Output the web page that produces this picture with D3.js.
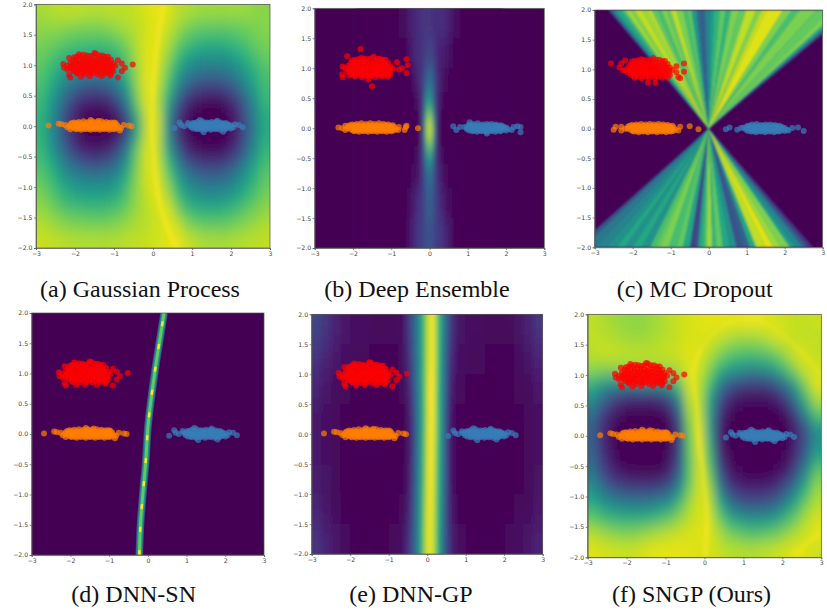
<!DOCTYPE html>
<html>
<head>
<meta charset="utf-8">
<script src="https://cdn.jsdelivr.net/npm/d3@7"></script>
<style>
  html, body { margin: 0; background: #fff; }
  svg { display: block; }
  .caption { font-family: "Liberation Serif", serif; font-size: 24px; fill: #111; text-anchor: middle; }
  .tick text { font-family: "DejaVu Sans", sans-serif; font-size: 6.2px; fill: #444; }
  .tick line, .domain { stroke: #555; stroke-width: 0.7; }
</style>
</head>
<body>
<svg id="chart" width="827" height="613"></svg>
<script>
const xTicks = [-3, -2, -1, 0, 1, 2, 3];
const yTicks = [-2, -1.5, -1, -0.5, 0, 0.5, 1, 1.5, 2];

// heat values are in tenths of the viridis range, rows run from y=2 down to y=-2
const quarterX = [-3, -2.75, -2.5, -2.25, -2, -1.75, -1.5, -1.25, -1, -0.75, -0.5, -0.25, 0, 0.25, 0.5, 0.75, 1, 1.25, 1.5, 1.75, 2, 2.25, 2.5, 2.75, 3];
const quarterY = [2, 1.75, 1.5, 1.25, 1, 0.75, 0.5, 0.25, 0, -0.25, -0.5, -0.75, -1, -1.25, -1.5, -1.75, -2];

const gpRows = [
  [8.7,8.8,9,9,9,8.9,8.9,9,9,9,9.2,9.5,9.6,9.5,9,8.8,8.6,8.5,8.5,8.5,8.5,8.5,8.3,8.2],
  [8.3,8.3,8.3,8.2,8,8,8,8.2,8.5,8.8,9,9.4,9.6,9.2,8.6,8,7.6,7.5,7.5,7.5,7.6,7.8,8,8.2],
  [8,7.8,7.5,7.2,7.1,7,7,7.1,7.5,8.2,9,9.5,9.5,8.8,7.8,7,6.6,6.4,6.4,6.5,6.8,7.2,7.7,8],
  [7.6,7.2,6.7,6.2,5.9,5.8,5.8,6,6.6,7.6,8.8,9.6,9.4,8.3,6.8,5.8,5.2,5,5,5.2,5.7,6.3,7,7.6],
  [7.3,6.6,5.8,5.1,4.6,4.4,4.4,4.7,5.5,7,8.7,9.7,9.2,7.7,5.8,4.6,3.9,3.6,3.6,3.9,4.5,5.4,6.4,7.2],
  [7,6.1,4.8,3.6,2.8,2.4,2.4,2.9,4,6,8.4,9.7,9,7,4.5,2.8,2,1.7,1.7,2.1,3,4.3,5.8,6.9],
  [6.7,5.4,3.8,2.2,1,0.6,0.5,0.9,2.2,4.6,8,9.6,8.8,5.8,3,1,0.3,0,0,0.4,1.4,3,5,6.6],
  [6.5,5,3.2,1.4,0.3,0,0,0,0.6,2.6,6.5,9.4,9.2,5,1.6,0.3,0,0,0,0,0.7,2.6,4.4,6.2],
  [6.5,5,3.2,1.4,0.3,0,0,0,0.6,2.6,6.5,9.4,9.2,5,1.6,0.3,0,0,0,0,0.7,2.6,4.4,6.2],
  [6.7,5.4,3.8,2.2,1,0.6,0.5,0.9,2.2,4.6,8,9.5,9,5.8,3,1,0.3,0,0,0.4,1.4,3,5,6.6],
  [7,6.2,4.9,3.7,2.9,2.4,2.4,2.9,3.9,5.8,8.2,9.5,9.2,7,4.5,2.7,2,1.7,1.7,2.1,3,4.4,5.9,7],
  [7.5,6.8,5.9,5.1,4.6,4.4,4.4,4.6,5.3,6.8,8.4,9.4,9.4,7.9,5.9,4.5,3.8,3.5,3.5,3.8,4.5,5.5,6.6,7.5],
  [8,7.4,6.7,6.1,5.8,5.7,5.7,5.8,6.3,7.4,8.5,9.2,9.6,8.7,6.9,5.6,5,4.8,4.8,5,5.6,6.4,7.2,7.9],
  [8.4,8,7.5,7.1,7,6.9,6.9,7,7.3,7.9,8.6,9,9.4,9.5,8,6.9,6.4,6.3,6.3,6.5,6.9,7.4,7.9,8.3],
  [8.9,8.6,8.3,8.1,8,7.9,7.9,8,8.2,8.5,8.8,9,9.2,9.6,9.2,8.2,7.7,7.5,7.5,7.6,7.9,8.2,8.5,8.8],
  [9.2,9.1,9,8.9,8.8,8.8,8.8,8.8,8.9,9,9.1,9.2,9.3,9.5,9.7,9.2,8.9,8.7,8.7,8.7,8.8,8.9,9,9.1]
];
const gpRidge = [[0.27,2],[0.14,1.5],[0.05,1],[0,0.5],[-0.02,0],[0.02,-0.5],[0.1,-1],[0.27,-1.5],[0.6,-2]];

const sngpRows = [
  [9,8.8,8.6,8.4,8.3,8.3,8.5,8.7,9,9.2,9.4,9.5,9.6,9.6,9.6,9.6,9.7,9.7,9.5,9.3,9.2,9.1,9.1,9.2],
  [9,9,8.8,8.6,8.5,8.5,8.6,8.8,9,9.2,9.4,9.4,9.4,9.2,8.8,8.6,8.6,8.7,9,9.5,9.3,9.1,9,9],
  [9,9.2,9.2,9.1,9,9,9,9.1,9.2,9.3,9.5,9.4,9,8.2,7.6,7.3,7.2,7.2,7.5,8,8.8,9.4,9.3,9.1],
  [8.4,8.3,8.3,8.4,8.5,8.6,8.6,8.6,8.6,9,9.5,9.2,8.2,6.8,5.8,5.4,5,5,5.4,6.2,7.4,8.6,9.4,9.2],
  [6.6,5.6,5,4.8,4.8,5,5,5.2,6,7.8,9.5,9,7.2,4.6,3.2,2.4,2,2,2.2,3,4.4,6.4,8.4,9.6],
  [5,3.6,2.4,1.6,1.2,1.2,1.2,1.6,2.6,5.4,9.2,8.8,6,3,1.2,0.5,0.2,0.2,0.4,1,2.2,4.4,7,8.8],
  [3.6,2,0.8,0.2,0,0,0,0,0.8,3.6,8.6,9,5.6,1.8,0.3,0,0,0,0,0,0.5,2.4,5,7.4],
  [3,1.3,0.3,0,0,0,0,0,0.2,2.2,8,9.4,5.6,1.2,0,0,0,0,0,0,0,1.2,2.8,5],
  [3,1.3,0.3,0,0,0,0,0,0.2,2.2,7.6,9.5,6.3,1.2,0,0,0,0,0,0,0,1.2,2.8,5],
  [3.3,1.6,0.6,0,0,0,0,0,0.5,2.6,7.4,9.4,7,1.8,0.2,0,0,0,0,0,0.3,1.6,3.4,6],
  [4,2.4,1.2,0.6,0.3,0.2,0.2,0.4,1.2,3.4,7.4,9.4,7.8,3,0.8,0.2,0,0,0,0.3,1,2.8,5,7.6],
  [5,3.8,2.8,2.2,2,1.9,1.9,2.2,3,5,7.8,9.4,8.6,4.6,2,1.2,0.9,0.9,1.1,1.7,2.8,4.6,6.6,8.4],
  [6.2,5.4,4.7,4.3,4.2,4.2,4.3,4.7,5.4,7,8.6,9.4,9,6.4,4,3,2.6,2.6,2.8,3.4,4.7,6.4,7.9,8.9],
  [7.6,7,6.6,6.4,6.3,6.4,6.6,7,7.6,8.4,9,9.4,9.4,7.8,6.2,5.4,5,5,5.2,5.8,6.8,7.9,8.8,9.4],
  [8.9,8.6,8.3,8.1,8.1,8.3,8.6,8.9,9.1,9.3,9.4,9.5,9.5,8.8,8,7.6,7.2,7.2,7.4,7.8,8.4,8.9,9.3,9.6],
  [9.5,9.4,9.3,9.2,9.2,9.4,9.5,9.6,9.6,9.6,9.5,9.4,9.4,9.2,8.9,8.9,8.8,8.9,9,9.2,9.4,9.6,9.4,9.2]
];
const sngpRidge = [[0.02,-2],[0.06,-1.36],[-0.03,-0.6],[-0.15,-0.04],[-0.2,0.5],[-0.28,1.05],[-0.1,1.44]];
const sngpArc = [[-0.1,1.44],[0.45,1.8],[1.3,1.92],[2,1.66],[2.8,1.16],[3,1]];
const sngpCorner = [[2.28,-1.97],[3,-1.58]];

const ensembleX = [-1, -0.8, -0.6, -0.5, -0.4, -0.3, -0.2, -0.1, 0, 0.1, 0.2, 0.3, 0.4, 0.5, 0.6, 0.8, 1];
const ensembleY = [2, 1.5, 1, 0.6, 0.3, 0.1, -0.1, -0.3, -0.6, -1, -1.5, -2];
const ensembleRows = [
  [0,0.3,0.7,1,1.2,1.4,1.5,1.5,1.5,1.3,1.3,1.3,1.1,0.8,0.4,0],
  [0,0.1,0.4,0.8,1.2,1.4,1.5,2,2,1.5,1,0.8,0.6,0.4,0.1,0],
  [0,0,0,0.2,0.7,1.3,2,3.5,3.5,2,1,0.5,0.2,0,0,0],
  [0,0,0,0,0.2,0.8,2.5,5.5,5,2,0.7,0.2,0,0,0,0],
  [0,0,0,0,0,0.4,3,7.5,7,2.5,0.4,0,0,0,0,0],
  [0,0,0,0,0,0.4,3.5,9.5,9.5,3.5,0.4,0,0,0,0,0],
  [0,0,0,0,0,0.4,3,8,8,3,0.4,0,0,0,0,0],
  [0,0,0,0,0.2,0.8,2.5,5.5,5.5,2,0.7,0.2,0,0,0,0],
  [0,0,0,0.2,0.4,1,2,3.5,3.5,2,1,0.5,0.2,0,0,0],
  [0,0,0.2,0.6,1.2,1.5,2,3,3,2,1.4,0.9,0.4,0.2,0,0],
  [0,0.1,0.4,1,1.4,1.8,2,2.5,2.5,2,1.7,1.4,1,0.5,0.1,0]
];

const dnnGpX = [-3, -2.75, -2.5, -2.25, -2, -1.5, -1, -0.75, -0.6, -0.5, -0.4, -0.3, -0.2, -0.1, 0, 0.1, 0.2, 0.3, 0.4, 0.5, 0.6, 0.75, 1, 1.5, 2, 2.25, 2.5, 2.75, 3];
const dnnGpY = [2, 1.5, 1, 0.5, 0, -0.5, -1, -1.5, -2];
const dnnGpRows = [
  [2,1.5,1,0.6,0.4,0.2,0.2,0.4,1,2,3,4.2,5.8,7.6,9.5,10,7.8,5.8,4,2.6,1.3,0.5,0.3,0.2,0.3,0.5,0.9,1.5],
  [1.4,1,0.6,0.4,0.2,0.1,0.1,0.3,0.8,1.6,3,4.2,5.8,7.6,9.5,10,7.8,5.6,3.8,2.2,1,0.4,0.2,0.1,0.1,0.3,0.5,1],
  [0.9,0.6,0.3,0.2,0.1,0,0,0.2,0.5,1.2,2.4,4,5.6,7.6,10,10,7.6,5.4,3.6,1.8,0.6,0.2,0.1,0,0.1,0.2,0.3,0.6],
  [0.6,0.4,0.2,0.1,0,0,0,0,0.2,0.8,2.2,3.8,5.5,7.6,9.8,10,7.6,5.5,3.4,1.4,0.4,0.1,0,0,0,0.1,0.2,0.4],
  [0.6,0.4,0.2,0.1,0,0,0,0,0.2,0.8,2.2,3.8,5.6,7.8,10,9.8,7.4,5.4,3.4,1.4,0.4,0.1,0,0,0,0.1,0.2,0.4],
  [0.7,0.5,0.2,0.1,0,0,0,0.1,0.3,1,2.4,4,5.8,8,10,9.6,7.2,5.2,3.4,1.4,0.4,0.1,0,0,0,0.1,0.2,0.5],
  [1,0.6,0.3,0.1,0,0,0.1,0.2,0.5,1.2,2.6,4.2,6,8.4,10,9.4,7,5,3.2,1.6,0.5,0.1,0,0,0,0.2,0.3,0.6],
  [1.5,1,0.6,0.3,0.1,0.1,0.2,0.4,1,1.8,3,4.4,6.2,8.6,10,9.2,7,4.8,3,1.8,0.8,0.3,0.1,0.1,0.2,0.4,0.6,1]
];

// MC dropout is drawn as wedges from the origin, given by where each wedge edge meets y=2 and y=-2
const mcTopEdges = [-2.64,-2.55,-2.46,-2.3,-2.2,-2.05,-1.95,-1.75,-1.6,-1.5,-1.35,-1.24,-1.1,-1,-0.85,-0.67,-0.55,-0.45,-0.32,-0.22,-0.1,0.04,0.15,0.3,0.45,0.6,0.8,0.99,1.25,1.4,1.53,1.96,2.2,2.4,2.84,3.2,3.45,3.6,3.75];
const mcTopValues = [2.5,4.5,6,7,8.5,8,9,8.5,9,7.5,7,8,7.5,9,8,7,7.5,5.5,3.5,3,4.5,5.5,6.5,7.5,6.5,8,7.5,9,8,9,9.5,8,7,8,7.5,8,6,3];
const mcBottomEdges = [-3.5,-3.3,-3,-2.7,-2.42,-2.2,-2,-1.75,-1.54,-1.4,-1.28,-1.05,-0.85,-0.67,-0.49,-0.38,-0.27,-0.15,-0.05,0.1,0.2,0.38,0.56,0.74,0.9,1.09,1.26,1.5,1.7,1.9,2.14,2.3,2.49,2.62,2.75];
const mcBottomValues = [2.5,4,4.5,5,6,5,6,5,7,7.5,8,7,7.5,6,2,2.5,6,7,8.5,6.5,7.5,6,5,2.5,3,6,9,9.5,8.5,8,5.5,4.5,3,1.5];

// DNN-SN decision ridge, x and y in data units
const snRidge = [[-0.22,-2],[-0.19,-1.5],[-0.13,-1],[-0.06,-0.5],[-0.03,-0.2],[0,0.1],[0.05,0.4],[0.12,0.75],[0.22,1.2],[0.32,1.6],[0.42,2]];

const redCore = [[-1.95,1.14],[-1.78,1.17],[-1.62,1.15],[-1.46,1.19],[-1.3,1.16],[-1.15,1.14],
  [-2.05,1.09],[-1.88,1.1],[-1.72,1.12],[-1.55,1.1],[-1.4,1.11],[-1.24,1.1],[-1.08,1.09],
  [-2.12,1.04],[-1.96,1.05],[-1.8,1.06],[-1.66,1.05],[-1.5,1.06],[-1.34,1.05],[-1.18,1.05],[-1.02,1.03],
  [-2.2,0.99],[-2.04,1],[-1.88,1.01],[-1.74,1],[-1.58,1],[-1.44,1.01],[-1.28,1],[-1.12,1],[-0.96,0.99],
  [-2.14,0.95],[-1.98,0.95],[-1.82,0.96],[-1.66,0.95],[-1.52,0.96],[-1.36,0.95],[-1.2,0.95],[-1.05,0.94],
  [-2.04,0.9],[-1.88,0.91],[-1.74,0.9],[-1.6,0.9],[-1.44,0.91],[-1.28,0.9],[-1.12,0.9],
  [-1.94,0.86],[-1.76,0.85],[-1.58,0.86],[-1.42,0.85],[-1.24,0.86],[-1.08,0.86],
  [-2.02,1.13],[-1.86,1.15],[-1.7,1.16],[-1.54,1.16],[-1.38,1.16],[-1.22,1.14],[-1.98,1.08],[-1.8,1.09],[-1.64,1.09],[-1.47,1.08],[-1.32,1.09],[-1.16,1.08],
  [-2.06,1.02],[-1.9,1.03],[-1.72,1.04],[-1.58,1.04],[-1.42,1.03],[-1.26,1.03],[-1.1,1.03],[-2.1,0.98],[-1.96,0.98],[-1.8,0.98],[-1.66,0.99],[-1.5,0.98],[-1.36,0.99],[-1.2,0.98],[-1.04,0.98],
  [-2.06,0.93],[-1.9,0.93],[-1.75,0.94],[-1.58,0.93],[-1.44,0.94],[-1.28,0.93],[-1.12,0.93],[-1.96,0.88],[-1.82,0.88],[-1.66,0.88],[-1.5,0.88],[-1.34,0.88],[-1.18,0.88],[-1.02,0.9]];
const orangeCore = [[-2.02,0.06],[-1.9,0.07],[-1.78,0.08],[-1.66,0.07],[-1.55,0.08],[-1.44,0.07],[-1.32,0.08],[-1.2,0.07],[-1.08,0.06],[-0.96,0.05],
  [-2.12,0.03],[-2,0.02],[-1.88,0.03],[-1.76,0.02],[-1.64,0.03],[-1.52,0.02],[-1.4,0.03],[-1.28,0.02],[-1.16,0.03],[-1.04,0.02],[-0.92,0.02],
  [-2.06,-0.02],[-1.94,-0.01],[-1.82,-0.02],[-1.7,-0.01],[-1.58,-0.02],[-1.46,-0.01],[-1.34,-0.02],[-1.22,-0.01],[-1.1,-0.02],[-0.98,-0.01],[-0.88,-0.02],
  [-1.96,-0.05],[-1.84,-0.06],[-1.72,-0.05],[-1.6,-0.06],[-1.48,-0.05],[-1.36,-0.06],[-1.24,-0.05],[-1.12,-0.06],[-1,-0.05],
  [-2.08,0.05],[-1.96,0.05],[-1.84,0.05],[-1.72,0.05],[-1.6,0.05],[-1.5,0.05],[-1.38,0.05],[-1.26,0.05],[-1.14,0.05],[-1.02,0.04],
  [-2.14,0],[-1.94,0.01],[-1.82,0.01],[-1.7,0.01],[-1.58,0.01],[-1.46,0.01],[-1.34,0.01],[-1.22,0.01],[-1.1,0.01],[-0.98,0.01],
  [-2,-0.04],[-1.88,-0.04],[-1.76,-0.04],[-1.64,-0.04],[-1.52,-0.04],[-1.4,-0.04],[-1.28,-0.04],[-1.16,-0.04],[-1.04,-0.04],[-0.94,-0.04]];
const blueCore = [[1.02,0.05],[1.14,0.07],[1.26,0.08],[1.38,0.06],[1.5,0.07],[1.62,0.07],[1.74,0.06],[1.86,0.05],
  [0.92,0.02],[1.04,0.03],[1.16,0.02],[1.28,0.03],[1.4,0.02],[1.52,0.03],[1.64,0.02],[1.76,0.03],[1.88,0.02],[2,0.01],
  [0.98,-0.02],[1.1,-0.01],[1.22,-0.02],[1.34,-0.01],[1.46,-0.02],[1.58,-0.01],[1.7,-0.02],[1.82,-0.01],[1.94,-0.02],[2.06,-0.02],
  [1.12,-0.05],[1.24,-0.06],[1.36,-0.05],[1.48,-0.06],[1.6,-0.05],[1.72,-0.06],[1.84,-0.05],
  [1.08,0.05],[1.2,0.05],[1.32,0.05],[1.44,0.05],[1.56,0.05],[1.68,0.05],[1.8,0.04],[1.92,0.03],
  [0.98,0.01],[1.1,0.01],[1.22,0.01],[1.34,0.01],[1.46,0.01],[1.58,0.01],[1.7,0.01],[1.82,0.01],[1.94,0.01],
  [1.04,-0.04],[1.16,-0.04],[1.28,-0.04],[1.4,-0.04],[1.52,-0.04],[1.64,-0.04],[1.76,-0.04],[1.88,-0.04],[2,-0.04]];

const redEdge = [[-2.3,1.02],[-2.28,0.96],[-2.2,0.93],[-2.15,0.84],[-2.12,0.8],[-1.85,0.81],[-1.62,0.82],[-1.32,0.82],[-1.1,0.83],[-0.9,0.8],[-0.8,0.9],[-0.72,0.96],[-0.8,1.03],[-0.9,1.08],[-2.15,1.12],[-1.9,1.18],[-1.5,1.2],[-0.52,1.01]];
const orangeEdge = [[-2.68,0.01],[-2.42,0.04],[-2.35,0.03],[-2.25,0.02],[-2.2,-0.02],[-2.12,-0.05],[-0.85,-0.07],[-0.82,-0.03],[-0.75,0.02],[-0.62,0.01],[-0.55,0],[-1.6,0.1],[-1.4,0.09],[-1,0.06]];
const blueEdge = [[0.55,-0.03],[0.68,0.06],[0.72,0.02],[0.8,0],[0.9,0.05],[2.2,0.02],[2.3,-0.02],[1.2,0.1],[1.3,-0.1],[1.8,-0.09],[1.65,0.09],[2.1,0.03]];

const redEdgeB = [[-1.8,1.32],[-2.15,1.2],[-1.5,0.7],[-0.6,1.15],[-0.57,1.05],[-0.6,0.92],[-2.28,0.9],[-2.27,0.85],[-2.27,1.03],[-0.85,1.1],[-0.8,0.98],[-0.72,1],[-2.1,0.88],[-1.6,0.81]];
const orangeEdgeB = [[-0.3,0],[-0.6,0.04],[-0.65,-0.03],[-0.62,0.02],[-2.38,0.01],[-2.28,0],[-2.2,-0.03],[-2.2,0.04],[-0.8,0.02],[-0.82,-0.03]];
const blueEdgeB = [[0.62,0.03],[0.7,-0.03],[0.8,0.02],[2.2,0.02],[2.3,0.03],[2.38,0.02],[2.38,-0.07],[2.15,-0.03],[1.05,0.1],[1.5,-0.09]];

const redEdgeC = [[-2.57,1.1],[-2.3,1.1],[-2.35,1.03],[-2.2,1.15],[-0.65,1.1],[-0.65,0.96],[-0.75,0.85],[-0.8,0.87],[-1.6,0.78],[-1.4,0.77],[-0.85,1.05],[-0.85,0.95],[-2.25,0.98]];
const orangeEdgeC = [[-2.5,-0.02],[-2.45,0.03],[-2.3,-0.03],[-2.3,0.03],[-2.2,0],[-0.5,0.04],[-0.27,-0.01],[-0.75,0.03],[-0.8,-0.03]];
const blueEdgeC = [[0.45,-0.01],[0.55,0.02],[0.75,-0.02],[0.85,0.01],[2.2,0.01],[2.5,-0.04],[2.35,0.02],[2.1,-0.03]];

const captions = ["(a) Gaussian Process", "(b) Deep Ensemble", "(c) MC Dropout", "(d) DNN-SN", "(e) DNN-GP", "(f) SNGP (Ours)"];

const panels = [
  { left: 36, right: 270, top: 4.3, bottom: 248, capX: 140, capY: 297, blur: "5 8", heat: [quarterX, quarterY, gpRows], glow: [[gpRidge, 3.5, 0.8]], edges: [redEdge, orangeEdge, blueEdge] },
  { left: 314.7, right: 544.3, top: 8.3, bottom: 248, capX: 417, capY: 297, blur: "2 9", heat: [ensembleX, ensembleY, ensembleRows], edges: [redEdgeB, orangeEdgeB, blueEdgeB] },
  { left: 594.7, right: 822.7, top: 10, bottom: 247.3, capX: 694.7, capY: 297, blur: "0.9 0.9", wedges: true, edges: [redEdgeC, orangeEdgeC, blueEdgeC] },
  { left: 31.7, right: 264, top: 313, bottom: 555, capX: 133.7, capY: 602, blur: "0.6 0.6", ridge: true, edges: [redEdge, orangeEdge, blueEdge] },
  { left: 311.7, right: 542.7, top: 314.3, bottom: 554, capX: 411, capY: 602, blur: "2.5 14", heat: [dnnGpX, dnnGpY, dnnGpRows], edges: [redEdge, orangeEdge, blueEdge] },
  { left: 587.7, right: 821.3, top: 314.3, bottom: 557.3, capX: 691.5, capY: 602, blur: "5 8", heat: [quarterX, quarterY, sngpRows], glow: [[sngpRidge, 3.5, 0.7], [sngpArc, 3, 0.35], [sngpCorner, 4, 0.5]], edges: [redEdge, orangeEdge, blueEdge] }
];

const svg = d3.select("#chart");
const defs = svg.append("defs");
const heatColor = v => d3.interpolateViridis(v / 10);
const minus = s => String(s).replace("-", "\u2212");

defs.append("filter").attr("id", "soft").append("feGaussianBlur").attr("stdDeviation", 0.45);

function panelFilter(id, p, std) {
  const f = defs.append("filter").attr("id", id)
    .attr("filterUnits", "userSpaceOnUse")
    .attr("x", p.left - 40).attr("y", p.top - 50)
    .attr("width", p.right - p.left + 80).attr("height", p.bottom - p.top + 100);
  f.append("feGaussianBlur").attr("stdDeviation", std);
}

function drawCells(layer, x, y, [xEdges, yEdges, rows]) {
  rows.forEach((row, r) => {
    row.forEach((v, c) => {
      // edge cells run past the frame so the blur does not fade out at the border
      const x0 = x(xEdges[c]) - (c === 0 ? 35 : 0);
      const x1 = x(xEdges[c + 1]) + (c === row.length - 1 ? 35 : 0);
      const y0 = y(yEdges[r]) - (r === 0 ? 45 : 0);
      const y1 = y(yEdges[r + 1]) + (r === rows.length - 1 ? 45 : 0);
      layer.append("rect")
        .attr("x", x0).attr("y", y0)
        .attr("width", x1 - x0 + 0.5).attr("height", y1 - y0 + 0.5)
        .attr("fill", heatColor(v));
    });
  });
}

function drawWedges(layer, x, y) {
  const wedge = d3.line().x(d => x(d[0])).y(d => y(d[1]));
  mcTopValues.forEach((v, i) => {
    layer.append("path")
      .attr("d", wedge([[0, 0], [mcTopEdges[i], 2], [mcTopEdges[i + 1], 2]]) + "Z")
      .attr("fill", heatColor(v)).attr("stroke", heatColor(v)).attr("stroke-width", 0.4);
  });
  mcBottomValues.forEach((v, i) => {
    layer.append("path")
      .attr("d", wedge([[0, 0], [mcBottomEdges[i], -2], [mcBottomEdges[i + 1], -2]]) + "Z")
      .attr("fill", heatColor(v)).attr("stroke", heatColor(v)).attr("stroke-width", 0.4);
  });
}

function drawRidge(layer, x, y) {
  const ridge = d3.line().x(d => x(d[0])).y(d => y(d[1])).curve(d3.curveCatmullRom);
  const strokes = [[7.5, 2.5], [5.5, 5], [3, 7.5]];
  strokes.forEach(([w, v]) => {
    layer.append("path").attr("d", ridge(snRidge))
      .attr("fill", "none").attr("stroke", heatColor(v)).attr("stroke-width", w);
  });
  layer.append("path").attr("d", ridge(snRidge))
    .attr("fill", "none").attr("stroke", heatColor(10)).attr("stroke-width", 2.4)
    .attr("stroke-dasharray", "5 18");
}

panels.forEach((p, i) => {
  const x = d3.scaleLinear().domain([-3, 3]).range([p.left, p.right]);
  const y = d3.scaleLinear().domain([-2, 2]).range([p.bottom, p.top]);
  const g = svg.append("g");

  defs.append("clipPath").attr("id", "clip" + i).append("rect")
    .attr("x", p.left).attr("y", p.top)
    .attr("width", p.right - p.left).attr("height", p.bottom - p.top);
  panelFilter("blur" + i, p, p.blur);
  panelFilter("glow" + i, p, 2);

  const clipped = g.append("g").attr("clip-path", `url(#clip${i})`);
  clipped.append("rect")
    .attr("x", p.left).attr("y", p.top)
    .attr("width", p.right - p.left).attr("height", p.bottom - p.top)
    .attr("fill", heatColor(0));
  const heat = clipped.append("g").attr("filter", `url(#blur${i})`);
  if (p.heat) drawCells(heat, x, y, p.heat);
  if (p.wedges) drawWedges(heat, x, y);
  if (p.ridge) drawRidge(heat, x, y);

  if (p.glow) {
    const glowLine = d3.line().x(d => x(d[0])).y(d => y(d[1])).curve(d3.curveCatmullRom);
    const glow = clipped.append("g").attr("filter", `url(#glow${i})`);
    p.glow.forEach(([pts, w, o]) => {
      glow.append("path").attr("d", glowLine(pts))
        .attr("fill", "none").attr("stroke", heatColor(10)).attr("stroke-width", w)
        .attr("stroke-opacity", o);
    });
  }

  const dots = clipped.append("g").attr("filter", "url(#soft)");
  const clouds = [
    [blueCore.concat(p.edges[2]), "#377eb8"],
    [orangeCore.concat(p.edges[1]), "#ff7f00"],
    [redCore.concat(p.edges[0]), "#ff0000"]
  ];
  clouds.forEach(([pts, color]) => {
    dots.selectAll(null).data(pts).enter().append("circle")
      .attr("cx", d => x(d[0])).attr("cy", d => y(d[1])).attr("r", 3)
      .attr("fill", color).attr("fill-opacity", 0.7);
  });

  g.append("g").attr("transform", `translate(0,${p.bottom})`)
    .call(d3.axisBottom(x).tickValues(xTicks).tickSize(2).tickPadding(1.5).tickFormat(minus));
  g.append("g").attr("transform", `translate(${p.left},0)`)
    .call(d3.axisLeft(y).tickValues(yTicks).tickSize(2).tickPadding(1.5).tickFormat(d => minus(d3.format(".1f")(d))));
  g.append("rect")
    .attr("x", p.left).attr("y", p.top)
    .attr("width", p.right - p.left).attr("height", p.bottom - p.top)
    .attr("fill", "none").attr("stroke", "#555").attr("stroke-width", 0.7);

  svg.append("text").attr("class", "caption")
    .attr("x", p.capX).attr("y", p.capY).text(captions[i]);
});
</script>
</body>
</html>
